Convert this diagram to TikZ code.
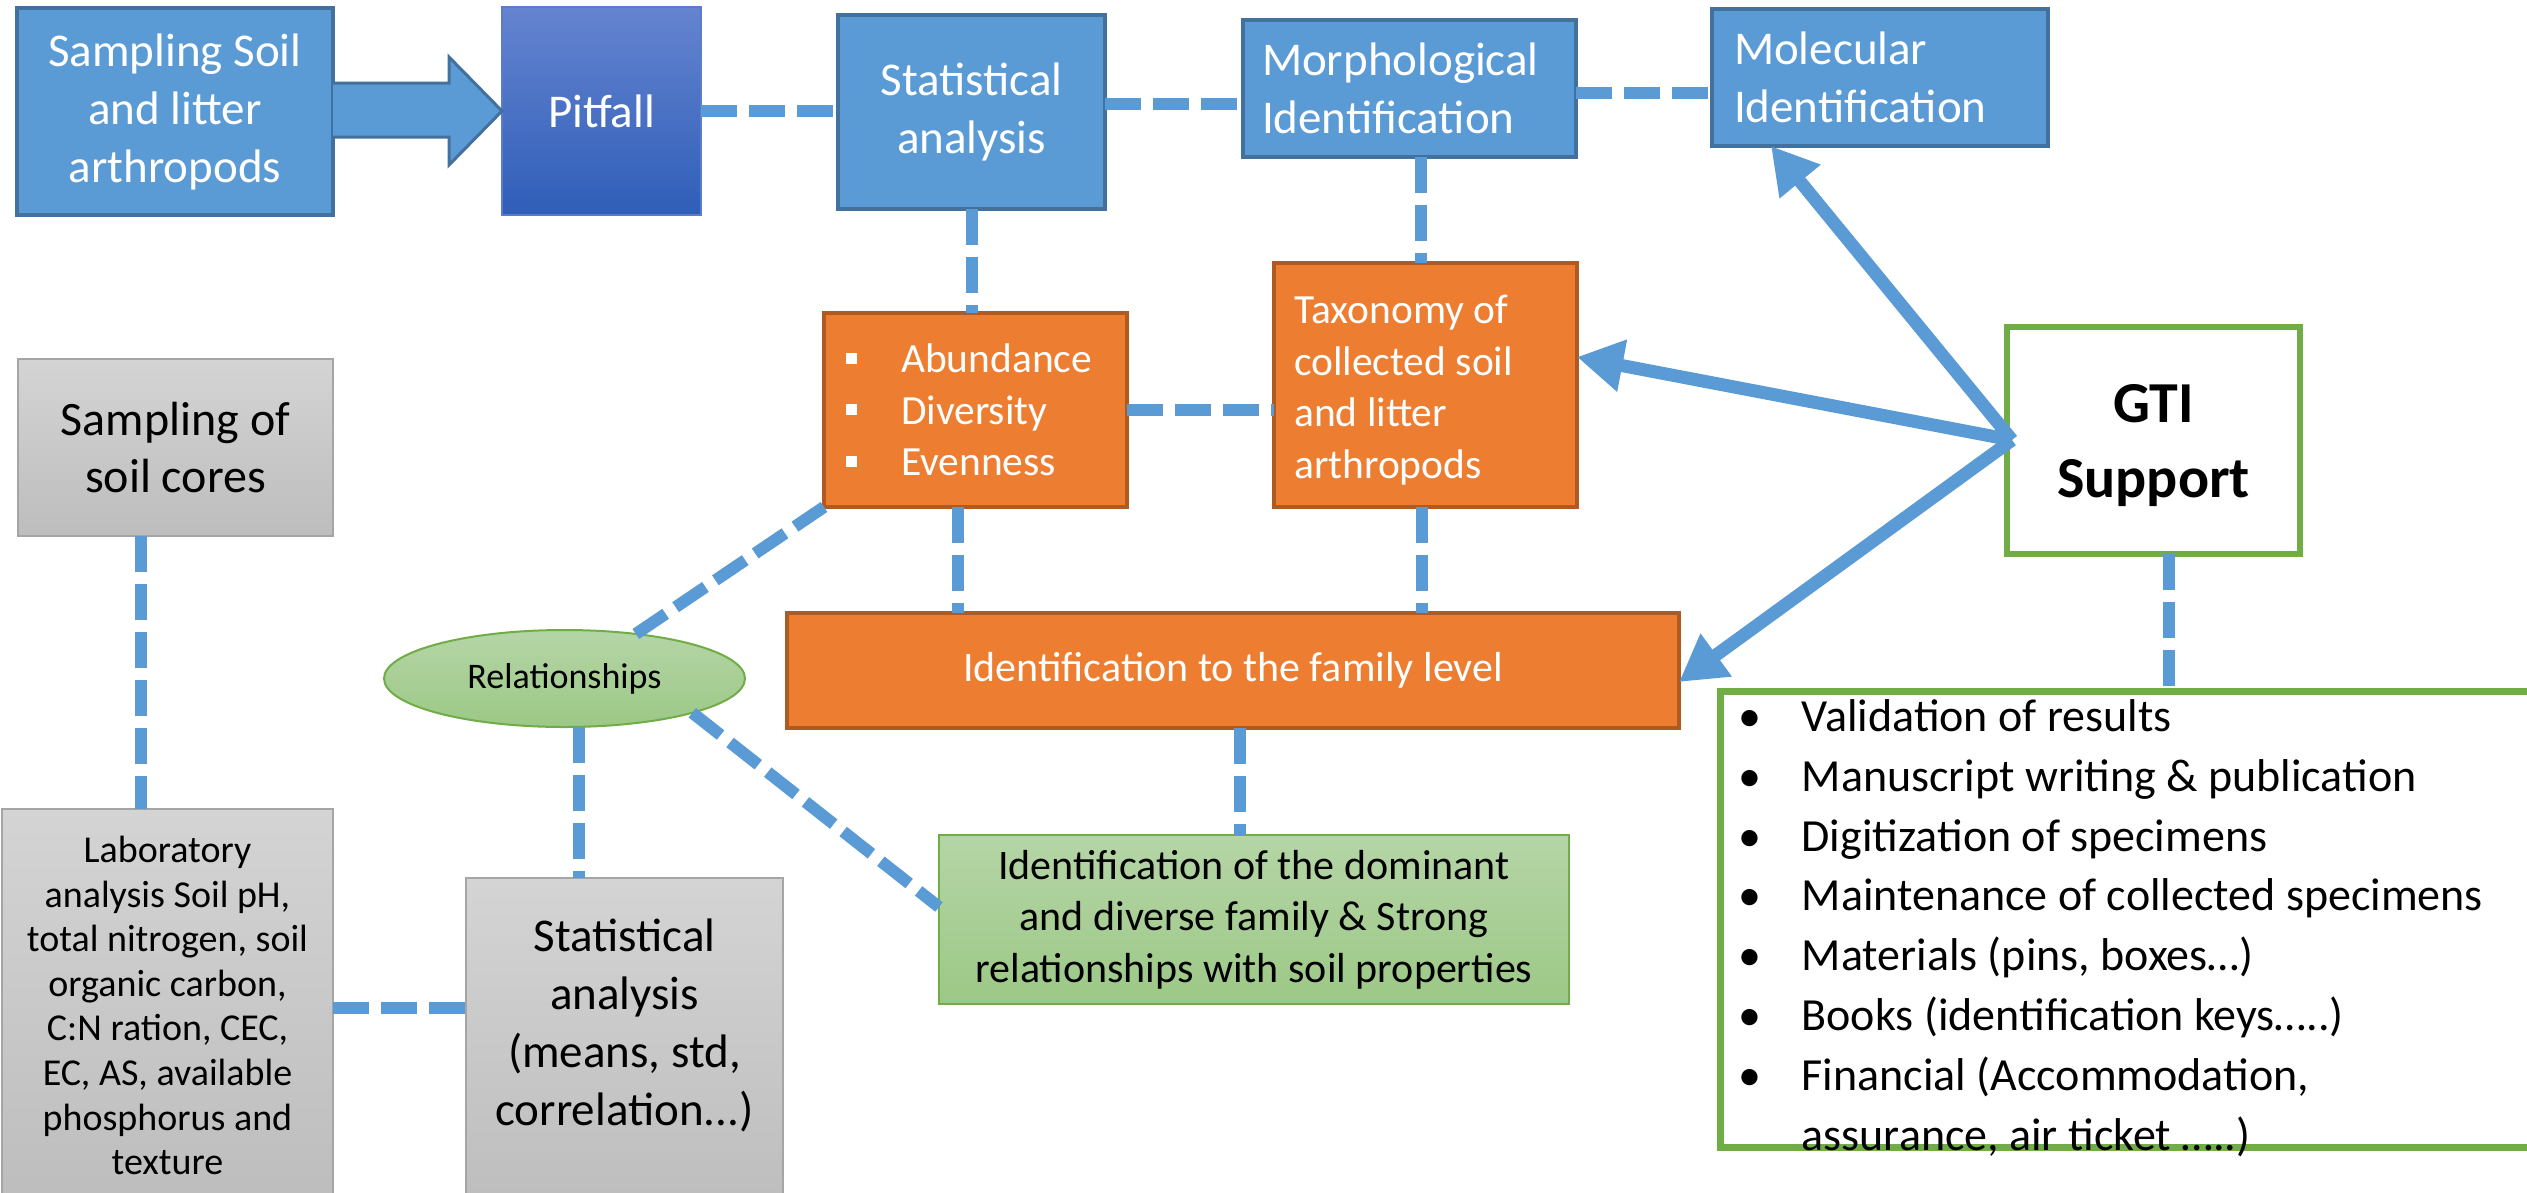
\documentclass[tikz,border=0pt]{standalone}
\usepackage{fontspec}
\setmainfont{Carlito}
\usetikzlibrary{arrows.meta,shapes.geometric,calc}
\definecolor{cblue}{HTML}{5B9BD5}
\definecolor{cbluedk}{HTML}{41719C}
\definecolor{corange}{HTML}{ED7D31}
\definecolor{corangedk}{HTML}{AE5A21}
\definecolor{cgreen}{HTML}{70AD47}
\definecolor{cgreentop}{HTML}{B5D5A6}
\definecolor{cgreenbot}{HTML}{9CC886}
\definecolor{cgraytop}{HTML}{D4D4D4}
\definecolor{cgraybot}{HTML}{BDBDBD}
\definecolor{cgraydk}{HTML}{A5A5A5}
\definecolor{cpittop}{HTML}{6584D0}
\definecolor{cpitbot}{HTML}{2F5EB8}
\newcommand\myfs[2]{\fontsize{#1}{#2}\selectfont}
\newcommand\sqb{\makebox[55pt][l]{\raisebox{9pt}{\rule{11pt}{11pt}}}}
\newcommand\rb{\makebox[63pt][l]{•}}
\tikzset{
 basebox/.style={rectangle, inner sep=0pt, outer sep=0pt},
 bluebox/.style={basebox, fill=cblue, draw=cbluedk, line width=3.5pt, text=white, font=\myfs{47}{58}, align=center},
 orbox/.style={basebox, fill=corange, draw=corangedk, line width=3.5pt, text=white, font=\myfs{41.5}{51.5}, align=center},
 greybox/.style={basebox, top color=cgraytop, bottom color=cgraybot, draw=cgraydk, line width=2.5pt, text=black, align=center},
 greenbox/.style={basebox, top color=cgreentop, bottom color=cgreenbot, draw=cgreen, line width=2.5pt, text=black, align=center},
 gtibox/.style={basebox, fill=white, draw=cgreen, line width=6.5pt, text=black},
 conn/.style={draw=cblue, line width=12pt, dash pattern=on 36pt off 12pt},
 garrow/.style={draw=cblue, fill=cblue, line width=13pt, -{Triangle[length=46pt,width=50pt]}},
}
\begin{document}
\begin{tikzpicture}[x=1pt,y=-1pt]
\useasboundingbox (0,0) rectangle (2527,1192);
\clip (0,0) rectangle (2527,1192);

% top row
\node[bluebox, minimum width=316pt, minimum height=207pt] (sam) at (175,111.5) {Sampling Soil\\and litter\\arthropods};
\node[basebox, top color=cpittop, bottom color=cpitbot, draw=cpittop!80!cpitbot, line width=1.5pt, text=white, font=\myfs{47}{58}, minimum width=199pt, minimum height=208pt] (pit) at (601.5,111) {Pitfall};
\node[bluebox, minimum width=267pt, minimum height=194pt] (stat) at (971.5,112) {Statistical\\analysis};
\node[bluebox, align=left, text width=295pt, inner xsep=19pt, minimum width=333pt, minimum height=137pt] (morph) at (1409.5,88.5) {Morphological\\Identification};
\node[bluebox, align=left, text width=292pt, inner xsep=22pt, minimum width=336pt, minimum height=137pt] (molec) at (1880,77.5) {Molecular\\Identification};

% block arrow
\draw[fill=cblue, draw=cbluedk, line width=3pt, line join=miter] (sam.east |- 0,83) -- (449,83) -- (449,57) -- (pit.west) -- (449,165) -- (449,137) -- (sam.east |- 0,137);

% orange boxes
\node[orbox, align=left, text width=259pt, inner xsep=22pt, minimum width=303pt, minimum height=194pt] (abd) at (975.5,410) {\sqb Abundance\\\sqb Diversity\\\sqb Evenness};
\node[orbox, align=left, text width=263pt, inner xsep=20pt, minimum width=303pt, minimum height=244pt] (tax) at (1425.5,385) {};
\node[font=\myfs{41.5}{51.5}, text=white, align=left, anchor=west, inner sep=0pt] (taxt) at ($(tax.west)+(20,5)$) {Taxonomy of\\collected soil\\and litter\\arthropods};
\node[orbox, font=\myfs{42}{52}, minimum width=892pt, minimum height=115pt] (fam) at (1233,670.5) {Identification to the family level};

% green
\node[greenbox, font=\myfs{42}{51.5}, minimum width=630pt, minimum height=169pt] (grn) at (1254,919.5) {Identification of the dominant\\and diverse family \& Strong\\relationships with soil properties};
\node[ellipse, inner sep=0pt, outer sep=0pt, top color=cgreentop, bottom color=cgreenbot, draw=cgreen, line width=2pt, font=\myfs{36}{44}, minimum width=361pt, minimum height=97pt] (rel) at (564.5,678.5) {Relationships};

% grey
\node[greybox, font=\myfs{48}{57}, minimum width=315pt, minimum height=177pt] (sc) at (175.5,447.5) {Sampling of\\soil cores};
\node[greybox, font=\myfs{38}{44.6}, minimum width=331pt, minimum height=393pt] (lab) at (167.5,1005.5) {Laboratory\\analysis Soil pH,\\total nitrogen, soil\\organic carbon,\\C:N ration, CEC,\\EC, AS, available\\phosphorus and\\texture};
\node[greybox, minimum width=317pt, minimum height=332pt] (sg) at (624.5,1044) {};
\node[font=\myfs{47}{58}, align=center, inner sep=0pt] (sgt) at ($(sg.center)+(0,-19)$) {Statistical\\analysis\\(means, std,\\correlation...)};

% GTI
\node[gtibox, align=center, font=\myfs{58}{76}\bfseries, minimum width=293pt, minimum height=227pt] (gti) at (2153.5,440.5) {};
\node[font=\myfs{58}{75}\bfseries, align=center, inner sep=0pt] (gtit) at ($(gti.center)+(0,5)$) {GTI\\Support};
\node[gtibox, line width=7pt, minimum width=814.5pt, minimum height=456pt] (bul) at (2127.75,919) {};
\node[font=\myfs{46}{59.8}, align=left, anchor=west, inner sep=0pt] (bult) at ($(bul.west)+(18,9)$) {\rb Validation of results\\\rb Manuscript writing \& publication\\\rb Digitization of specimens\\\rb Maintenance of collected specimens\\\rb Materials (pins, boxes…)\\\rb Books (identification keys…..)\\\rb Financial (Accommodation,\\\makebox[63pt][l]{}assurance, air ticket …..)};

% dashed connectors
\draw[conn] (pit.east) -- (pit.east -| stat.west);
\draw[conn] (stat.east |- 0,104) -- (morph.west |- 0,104);
\draw[conn] (morph.east |- 0,93) -- (molec.west |- 0,93);
\draw[conn] (stat.south) -- (stat.south |- abd.north);
\draw[conn] (morph.south -| 1421,0) -- (tax.north -| 1421,0);
\draw[conn] (abd.east) -- (abd.east -| tax.west);
\draw[conn] (abd.south -| 958,0) -- (fam.north -| 958,0);
\draw[conn] (tax.south -| 1422,0) -- (fam.north -| 1422,0);
\draw[conn] (fam.south -| 1240,0) -- (grn.north -| 1240,0);
\draw[conn] (rel.32) -- (abd.south west);
\draw[conn] (rel.-15) -- (grn.west |- 0,907);
\draw[conn] (rel.south -| 579,0) -- (sg.north -| 579,0);
\draw[conn] (sc.south -| 141,0) -- (lab.north -| 141,0);
\draw[conn] (lab.east |- 0,1008) -- (sg.west |- 0,1008);
\draw[conn] (gti.south -| 2169,0) -- (bul.north -| 2169,0);

% GTI arrows
\coordinate (gp) at (2012,440);
\draw[garrow] (gp) -- (1771,0 |- molec.south);
\draw[garrow] (gp) -- (tax.east |- 0,357);
\draw[garrow] (gp) -- (fam.east |- 0,682);
\end{tikzpicture}
\end{document}
